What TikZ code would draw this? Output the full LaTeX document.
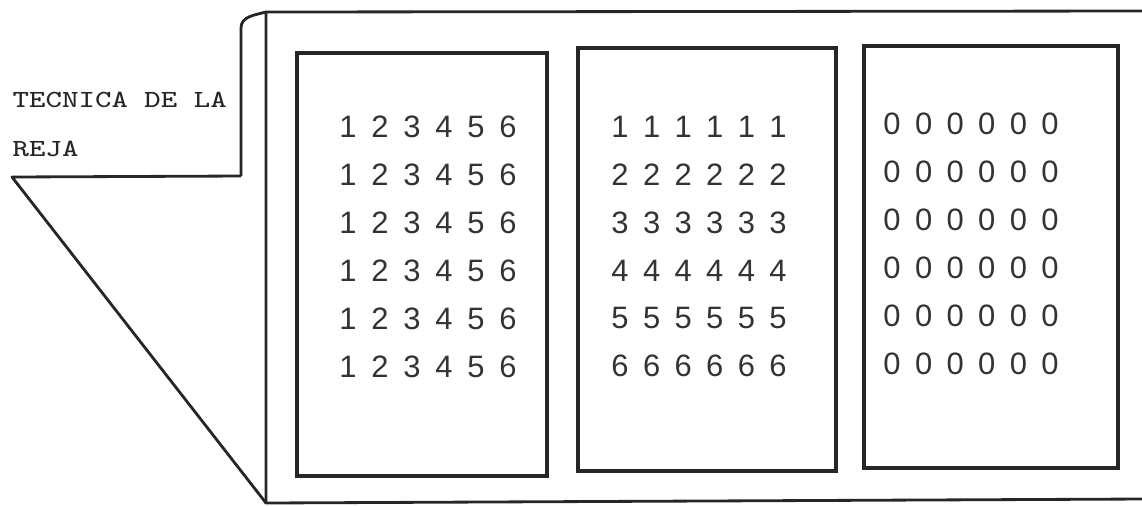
\documentclass[tikz,border=0pt]{standalone}
\usepackage{fontspec}
\usepackage{graphicx}
\setsansfont{Liberation Sans}
\usepackage{tikz}
\usetikzlibrary{positioning}

\tikzset{
  frame/.style={line width=0.8pt, line join=round, draw=black!85},
  panel/.style={line width=0.9pt, draw=black!85},
  digit/.style={font=\sffamily\fontsize{8.8}{8.8}\selectfont, text=black!80, inner sep=0pt},
  titletext/.style={font=\ttfamily\fontsize{7}{7}\selectfont, text=black!85, inner sep=0pt, anchor=base west}
}

\begin{document}
\begin{tikzpicture}[x=0.01cm, y=-0.01cm]
  \useasboundingbox (0,0) rectangle (1142,505);

  % back flap with the title
  \draw[frame] (241,176) -- (241,28) to[out=-90+180, in=195] (266,12);
  \draw[frame] (241,176) -- (12,177) -- (266,503);
  \node[titletext] (title) at (12,107) {\scalebox{1.26}[1]{TECNICA DE LA}};
  \node[titletext] (titleb) at (12,156) {\scalebox{1.26}[1]{REJA}};

  % front frame, open on the right
  \draw[frame] (1142,11) -- (266,12) -- (266,503) -- (1142,499);

  % left panel
  \draw[panel] (297,53) rectangle (547,476);
  \begin{scope}[shift={(348,127)}]
    \foreach \r in {1,...,6}
      \foreach \c in {1,...,6}
        \node[digit] (left-\r-\c) at ({32*(\c-1)},{48*(\r-1)}) {\c};
  \end{scope}

  % middle panel
  \draw[panel] (578,48) rectangle (836,471);
  \begin{scope}[shift={(620,127)}]
    \foreach \r in {1,...,6}
      \foreach \c in {1,...,6}
        \node[digit] (mid-\r-\c) at ({31.6*(\c-1)},{47.8*(\r-1)}) {\r};
  \end{scope}

  % right panel
  \draw[panel] (864,46) rectangle (1118,468);
  \begin{scope}[shift={(892,124)}]
    \foreach \r in {1,...,6}
      \foreach \c in {1,...,6}
        \node[digit] (right-\r-\c) at ({31.6*(\c-1)},{48*(\r-1)}) {0};
  \end{scope}
\end{tikzpicture}
\end{document}
